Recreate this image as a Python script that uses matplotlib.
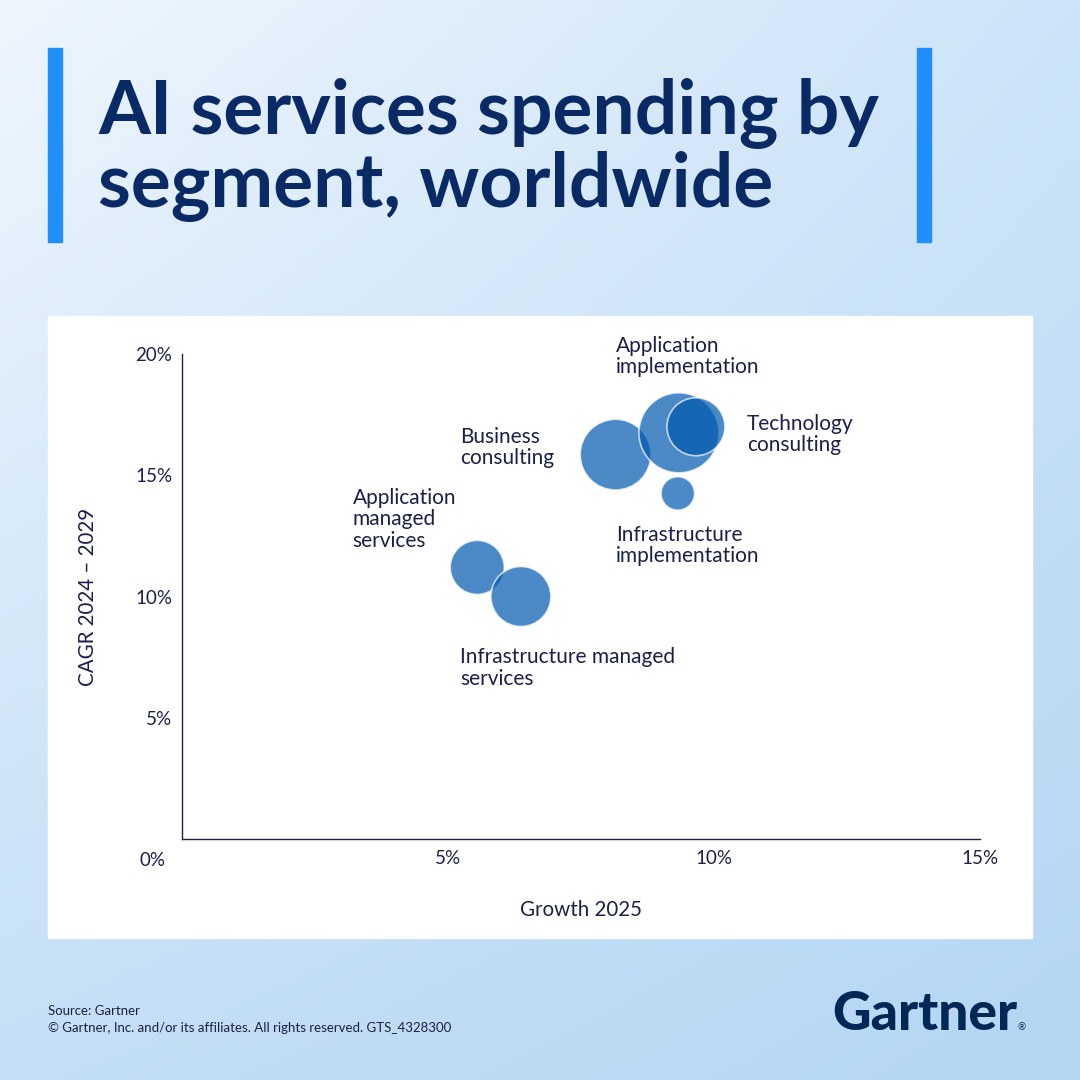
import numpy as np
import matplotlib
matplotlib.use("Agg")
import matplotlib.pyplot as plt
from matplotlib.patches import Rectangle

# Dados (Gartner)
segments = [
    "Application managed services",
    "Infrastructure managed services",
    "Business consulting",
    "Application implementation",
    "Infrastructure implementation",
    "Technology consulting",
]
growth_2025 = [5.55, 6.37, 8.15, 9.34, 9.32, 9.66]      # eixo x, %
cagr_2024_2029 = [11.2, 10.0, 15.85, 16.75, 14.25, 17.0]  # eixo y, %
spending = [7.3, 9.0, 12.5, 16.0, 2.8, 8.4]               # tamanho relativo da bolha

labels = [
    "Application\nmanaged\nservices",
    "Infrastructure managed\nservices",
    "Business\nconsulting",
    "Application\nimplementation",
    "Infrastructure\nimplementation",
    "Technology\nconsulting",
]
label_x = [3.21, 5.23, 5.23, 8.16, 8.16, 10.62]
label_y = [13.18, 7.05, 16.14, 19.9, 12.10, 16.68]

x_ticks = [5, 10, 15]
y_ticks = [5, 10, 15, 20]

title_lines = ["AI services spending by", "segment, worldwide"]
source_lines = ["Source: Gartner",
                "\u00a9 Gartner, Inc. and/or its affiliates. All rights reserved. GTS_4328300"]

NAVY = "#0a2a66"
INK = "#1c1f4a"
BUBBLE = "#0058b0"
BAR = "#1f8fff"

plt.rcParams['font.family'] = ['Lato', 'DejaVu Sans']

fig = plt.figure(figsize=(10.8, 10.8), dpi=100)

# Fundo em degradê (coordenadas em pixels)
bg = fig.add_axes([0, 0, 1, 1], zorder=0)
bg.set_xlim(0, 1080)
bg.set_ylim(1080, 0)
bg.axis('off')
tl = np.array([238, 246, 253]) / 255
tr = np.array([205, 228, 248]) / 255
bl = np.array([196, 223, 246]) / 255
br = np.array([180, 214, 243]) / 255
u = np.linspace(0, 1, 200)[None, :, None]
v = np.linspace(0, 1, 200)[:, None, None]
grad = (1 - v) * ((1 - u) * tl + u * tr) + v * ((1 - u) * bl + u * br)
bg.imshow(grad, extent=[0, 1080, 1080, 0], aspect='auto', zorder=0)

# Barras laterais do título
bg.add_patch(Rectangle((48, 48), 14, 194, color=BAR, zorder=1))
bg.add_patch(Rectangle((917, 48), 14, 194, color=BAR, zorder=1))

# Painel branco
bg.add_patch(Rectangle((48, 316), 984, 622, color="white", zorder=1))

# Título
t1 = bg.text(98, 134, title_lines[0], color=NAVY, fontsize=50, fontweight='bold',
             ha='left', va='baseline', zorder=2)
t2 = bg.text(98, 207, title_lines[1], color=NAVY, fontsize=50, fontweight='bold',
             ha='left', va='baseline', zorder=2)

# Rodapé
bg.text(48, 1011, source_lines[0], color=INK, fontsize=9.5, ha='left', va='center', zorder=2)
bg.text(48, 1028, source_lines[1], color=INK, fontsize=9.5, ha='left', va='center', zorder=2)
logo = bg.text(1017, 1030, "Gartner", color="#002856", fontsize=40, fontweight='black',
               ha='right', va='baseline', zorder=2)
bg.text(1018, 1030, "\u00ae", color="#002856", fontsize=7, ha='left', va='baseline', zorder=2)

# Ajuste de largura do título e do logo
fig.canvas.draw()
r = fig.canvas.get_renderer()
w = t1.get_window_extent(renderer=r).width
scale = 782 / w
t1.set_fontsize(t1.get_fontsize() * scale)
t2.set_fontsize(t2.get_fontsize() * scale)
w = logo.get_window_extent(renderer=r).width
logo.set_fontsize(logo.get_fontsize() * 185 / w)

# Gráfico de bolhas
ax = fig.add_axes([182 / 1080, (1080 - 839) / 1080, (980 - 182) / 1080, (839 - 354) / 1080],
                  zorder=3)
ax.patch.set_visible(False)
ax.set_xlim(0, 15)
ax.set_ylim(0, 20)

sizes = [s * 207.36 for s in spending]
ax.scatter(growth_2025, cagr_2024_2029, s=sizes, color=BUBBLE, alpha=0.7,
           edgecolors='white', linewidths=1.2, zorder=3, clip_on=False)

for txt, lx, ly in zip(labels, label_x, label_y):
    ax.text(lx, ly, txt, color=INK, fontsize=15, ha='left', va='center',
            linespacing=1.07, zorder=4, clip_on=False)

for side in ['top', 'right']:
    ax.spines[side].set_visible(False)
for side in ['left', 'bottom']:
    ax.spines[side].set_color(INK)
    ax.spines[side].set_linewidth(1.0)

ax.set_xticks(x_ticks)
ax.set_xticklabels([f"{t}%" for t in x_ticks])
ax.set_yticks(y_ticks)
ax.set_yticklabels([f"{t}%" for t in y_ticks])
ax.tick_params(axis='both', length=0, labelsize=13.5, labelcolor=INK)
ax.tick_params(axis='x', pad=8)
ax.tick_params(axis='y', pad=7)
ax.annotate("0%", xy=(0, 0), xytext=(-16, -22), textcoords='offset pixels',
            ha='right', va='center', fontsize=13.5, color=INK, annotation_clip=False)

ax.set_xlabel("Growth 2025", fontsize=14.8, color=INK, va='center')
ax.xaxis.set_label_coords(0.5, -0.146)
ax.set_ylabel("CAGR 2024 \u2013 2029", fontsize=14.8, color=INK, va='center')
ax.yaxis.set_label_coords(-0.118, 0.5)

plt.savefig("out.png", dpi=100)
